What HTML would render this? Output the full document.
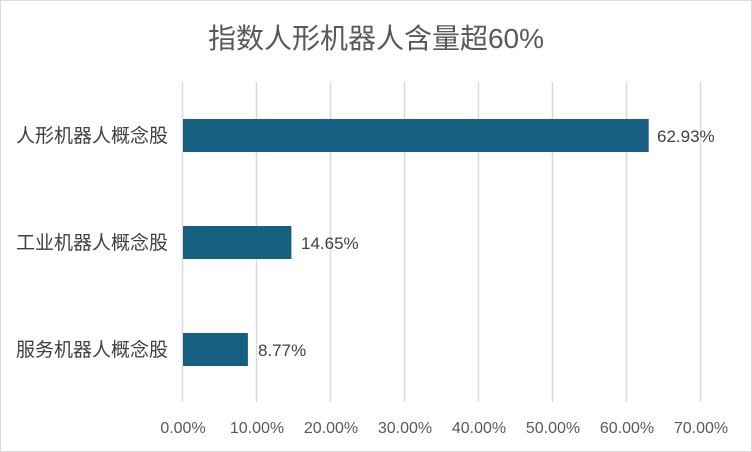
<!DOCTYPE html>
<html><head><meta charset="utf-8"><style>
body{margin:0;background:#fff;}
svg{display:block;font-family:"Liberation Sans","Noto Sans CJK SC",sans-serif;}
</style></head><body>
<svg width="752" height="452" xmlns="http://www.w3.org/2000/svg">
<rect x="0.5" y="0.5" width="751" height="451" fill="#fff" stroke="#d9d9d9"/>
<text x="376" y="48" text-anchor="middle" font-size="28" fill="#595959">指数人形机器人含量超60%</text>
<g stroke="#d9d9d9" stroke-width="1.5">
<line x1="182.5" y1="82" x2="182.5" y2="402"/>
<line x1="256.5" y1="82" x2="256.5" y2="402"/>
<line x1="330.5" y1="82" x2="330.5" y2="402"/>
<line x1="404.5" y1="82" x2="404.5" y2="402"/>
<line x1="478.5" y1="82" x2="478.5" y2="402"/>
<line x1="552.5" y1="82" x2="552.5" y2="402"/>
<line x1="626.5" y1="82" x2="626.5" y2="402"/>
<line x1="700.5" y1="82" x2="700.5" y2="402"/>
</g>
<g fill="#165f80">
<rect x="183" y="119" width="465.7" height="33"/>
<rect x="183" y="226" width="108.4" height="33"/>
<rect x="183" y="333" width="64.9" height="33"/>
</g>
<g font-size="17" fill="#404040">
<text x="657" y="142">62.93%</text>
<text x="301" y="249">14.65%</text>
<text x="258" y="356">8.77%</text>
</g>
<g font-size="19" fill="#404040" text-anchor="end">
<text x="168" y="142">人形机器人概念股</text>
<text x="168" y="249">工业机器人概念股</text>
<text x="168" y="356">服务机器人概念股</text>
</g>
<g font-size="16" fill="#595959" text-anchor="middle">
<text x="183" y="433">0.00%</text>
<text x="257" y="433">10.00%</text>
<text x="331" y="433">20.00%</text>
<text x="405" y="433">30.00%</text>
<text x="479" y="433">40.00%</text>
<text x="553" y="433">50.00%</text>
<text x="627" y="433">60.00%</text>
<text x="701" y="433">70.00%</text>
</g>
</svg>
</body></html>
